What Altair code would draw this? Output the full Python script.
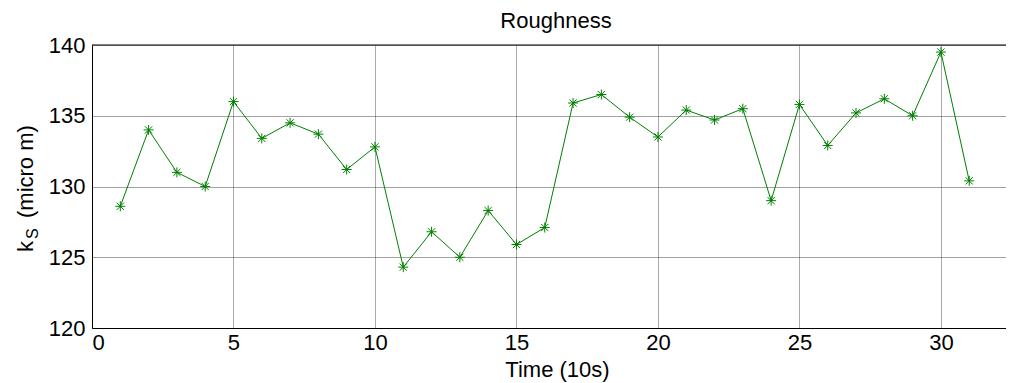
import altair as alt
import pandas as pd

# ---- data ----
time_vals = list(range(1, 32))
ks_vals = [128.6, 134.0, 131.0, 130.0, 136.0, 133.4, 134.5, 133.7, 131.2, 132.8,
           124.3, 126.8, 125.0, 128.3, 125.9, 127.1, 135.9, 136.5, 134.9, 133.5,
           135.4, 134.7, 135.5, 129.0, 135.8, 132.9, 135.2, 136.2, 135.0, 139.5,
           130.4]
x_ticks = [0, 5, 10, 15, 20, 25, 30]
y_ticks = [120, 125, 130, 135, 140]
x_domain = [0, 32.3]
y_domain = [120, 140]
chart_title = "Roughness"

df = pd.DataFrame({"time": time_vals, "ks": ks_vals})

FONT = "Liberation Sans"
GREEN = "#008000"
W, H = 914, 283
ASTERISK = "M-1,0L1,0M0,-1L0,1M-0.72,-0.72L0.72,0.72M-0.72,0.72L0.72,-0.72"

xscale = alt.Scale(domain=x_domain, nice=False, zero=False)
yscale = alt.Scale(domain=y_domain, nice=False, zero=False)

base = alt.Chart(df)

line = base.mark_line(color=GREEN, strokeWidth=1).encode(
    x=alt.X("time:Q", scale=xscale,
            axis=alt.Axis(values=x_ticks, title="Time (10s)", orient="bottom",
                          grid=True, gridColor="#aaaaaa", gridWidth=1,
                          labelPadding=4, titlePadding=6, titleX=465)),
    y=alt.Y("ks:Q", scale=yscale,
            axis=alt.Axis(values=y_ticks, title=None, grid=True,
                          gridColor="#444444", gridDash=[1, 1], gridWidth=1,
                          labelPadding=7)),
)

pts = base.mark_point(shape=ASTERISK, size=100, filled=False, color=GREEN,
                      strokeWidth=1, opacity=1).encode(
    x=alt.X("time:Q", scale=xscale),
    y=alt.Y("ks:Q", scale=yscale),
)

lab = pd.DataFrame({"t": ["x"]})
frame_top = alt.Chart(lab).mark_rule(color="black", strokeWidth=1).encode(
    x=alt.value(0), x2=alt.value(W), y=alt.value(0))

title_txt = alt.Chart(lab).mark_text(text=chart_title, font=FONT, fontSize=22,
                                     align="center", baseline="alphabetic",
                                     color="black").encode(
    x=alt.value(464), y=alt.value(-17))

k_txt = alt.Chart(lab).mark_text(text="k", font=FONT, fontSize=22, angle=270,
                                 align="left", baseline="alphabetic",
                                 color="black").encode(
    x=alt.value(-59), y=alt.value(207))
s_txt = alt.Chart(lab).mark_text(text="S", font=FONT, fontSize=16, angle=270,
                                 align="left", baseline="alphabetic",
                                 color="black").encode(
    x=alt.value(-54), y=alt.value(194))
m_txt = alt.Chart(lab).mark_text(text="(micro m)", font=FONT, fontSize=22,
                                 angle=270, align="left", baseline="alphabetic",
                                 color="black").encode(
    x=alt.value(-59), y=alt.value(173))

chart = alt.layer(line, pts, frame_top, title_txt, k_txt, s_txt, m_txt).properties(
    width=W, height=H,
    autosize=alt.AutoSizeParams(type="none"),
    padding={"left": 84, "top": 37, "right": 0, "bottom": 55},
).configure_view(stroke=None).configure_axis(
    labelFont=FONT, labelFontSize=22, labelColor="black",
    titleFont=FONT, titleFontSize=22, titleFontWeight="normal",
    titleColor="black", domainColor="black", domainWidth=1, ticks=False,
)

chart.save("out.html", embed_options={"renderer": "svg", "actions": False})
